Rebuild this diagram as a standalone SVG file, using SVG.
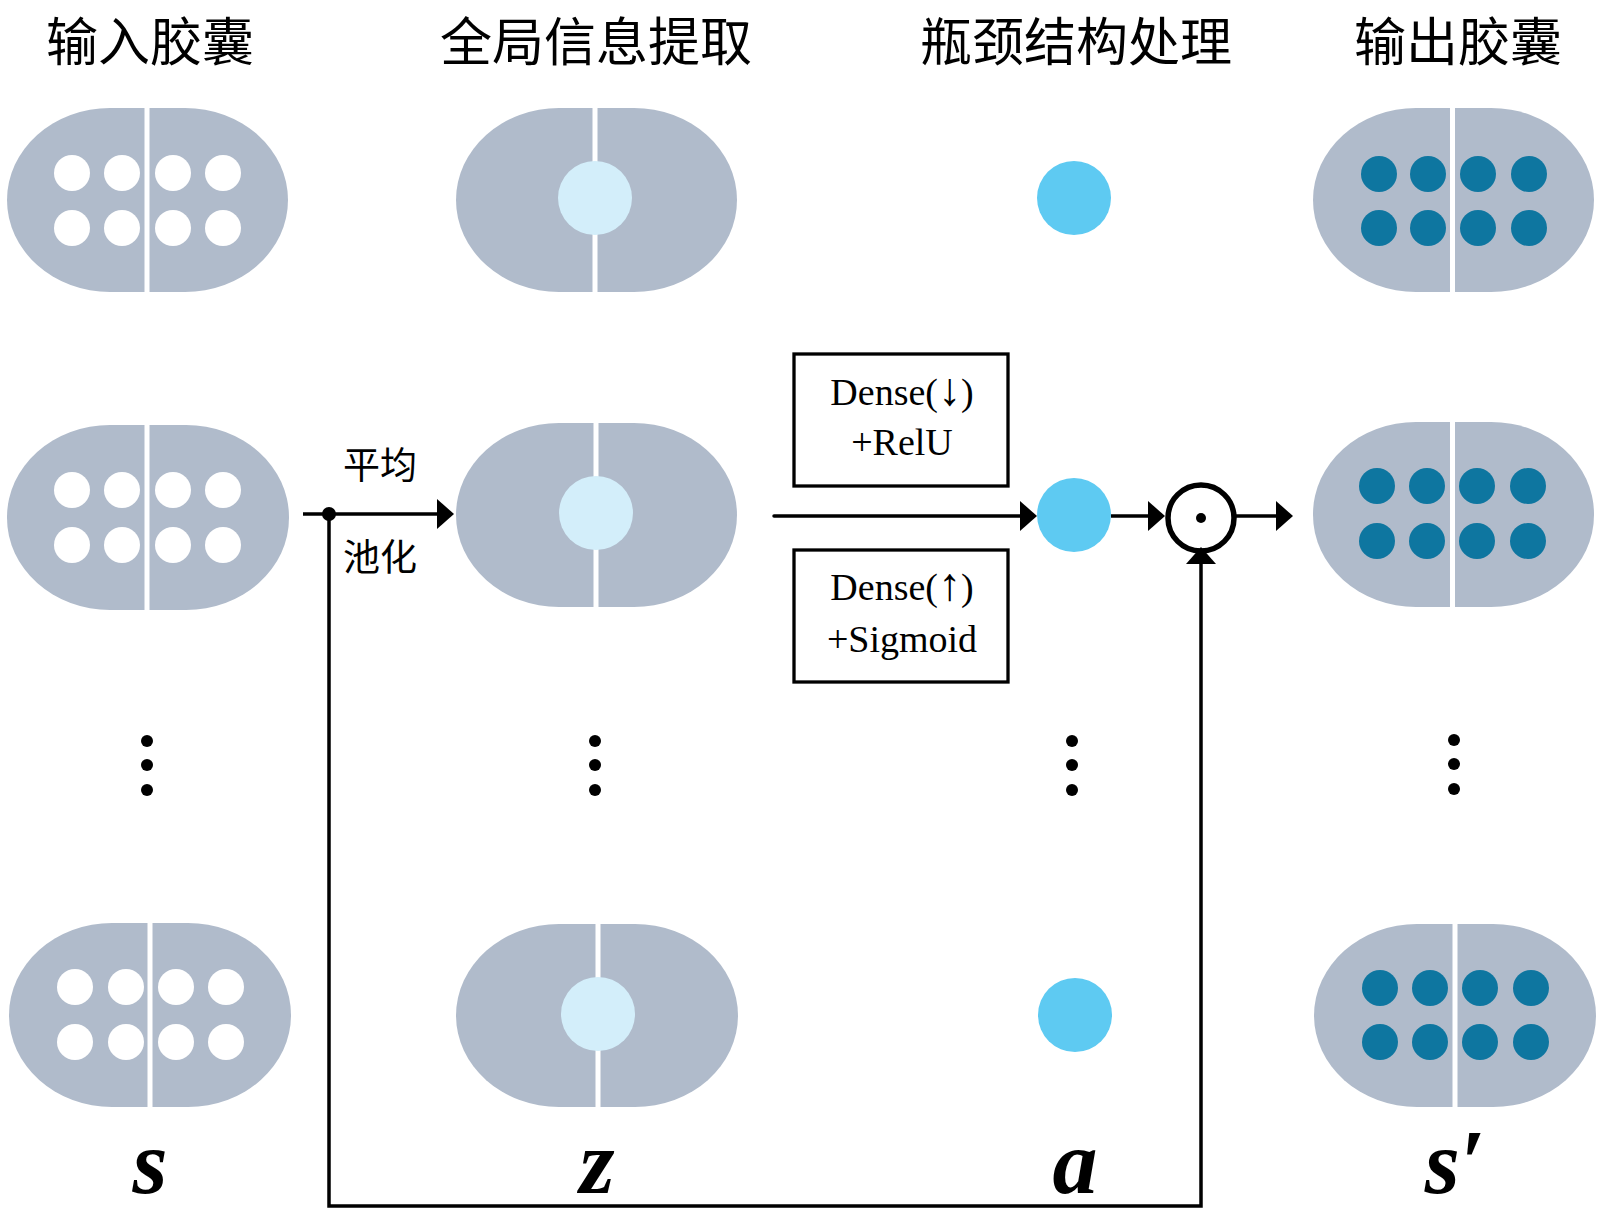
<svg xmlns="http://www.w3.org/2000/svg" width="1600" height="1214" viewBox="0 0 1600 1214">
<style>
.cap{fill:#b0bbcb}
.gap{fill:#ffffff}
.wd{fill:#ffffff}
.dd{fill:#0e76a0}
.lc{fill:#d3eefa}
.ac{fill:#5ecaf2}
.title{font-family:"Noto Sans CJK SC","Noto Sans CJK JP",sans-serif;font-size:52px;fill:#000;text-anchor:middle}
.cn{font-family:"Noto Sans CJK SC","Noto Sans CJK JP",sans-serif;font-size:37px;fill:#000;text-anchor:middle}
.box{fill:#fff;stroke:#000;stroke-width:3.3}
.bt{font-family:"Liberation Serif","DejaVu Serif",serif;font-size:38px;fill:#000;text-anchor:middle}
.ar{font-size:46px}
.var{font-family:"Liberation Serif","DejaVu Serif",serif;font-size:90px;font-weight:bold;font-style:italic;fill:#000;text-anchor:middle}
.ln{fill:none;stroke:#000;stroke-width:3.5}
.dot{fill:#000}
</style>
<defs>
<marker id="arr" viewBox="0 0 17 30" refX="3" refY="15" markerWidth="17" markerHeight="30" markerUnits="userSpaceOnUse" orient="auto">
<path d="M0,0 L17,15 L0,30 z" fill="#000"/>
</marker>
</defs>

<g id="titles">
<text class="title" x="150" y="61">输入胶囊</text>
<text class="title" x="596" y="61">全局信息提取</text>
<text class="title" x="1076" y="61">瓶颈结构处理</text>
<text class="title" x="1458" y="61">输出胶囊</text>
</g>

<!-- input capsules -->
<g id="s1">
<rect class="cap" x="7" y="108" width="281" height="184" rx="103" ry="92"/>
<rect class="gap" x="144.5" y="106" width="5" height="188"/>
<circle class="wd" cx="72" cy="173" r="18"/><circle class="wd" cx="122" cy="173" r="18"/><circle class="wd" cx="173" cy="173" r="18"/><circle class="wd" cx="223" cy="173" r="18"/>
<circle class="wd" cx="72" cy="228" r="18"/><circle class="wd" cx="122" cy="228" r="18"/><circle class="wd" cx="173" cy="228" r="18"/><circle class="wd" cx="223" cy="228" r="18"/>
</g>
<g id="s2">
<rect class="cap" x="7" y="425" width="282" height="185" rx="103" ry="92"/>
<rect class="gap" x="144.5" y="423" width="5" height="190"/>
<circle class="wd" cx="72" cy="490" r="18"/><circle class="wd" cx="122" cy="490" r="18"/><circle class="wd" cx="173" cy="490" r="18"/><circle class="wd" cx="223" cy="490" r="18"/>
<circle class="wd" cx="72" cy="545" r="18"/><circle class="wd" cx="122" cy="545" r="18"/><circle class="wd" cx="173" cy="545" r="18"/><circle class="wd" cx="223" cy="545" r="18"/>
</g>
<g id="s3">
<rect class="cap" x="9" y="923" width="282" height="184" rx="103" ry="92"/>
<rect class="gap" x="147.5" y="921" width="5" height="188"/>
<circle class="wd" cx="75" cy="987" r="18"/><circle class="wd" cx="126" cy="987" r="18"/><circle class="wd" cx="176" cy="987" r="18"/><circle class="wd" cx="226" cy="987" r="18"/>
<circle class="wd" cx="75" cy="1042" r="18"/><circle class="wd" cx="126" cy="1042" r="18"/><circle class="wd" cx="176" cy="1042" r="18"/><circle class="wd" cx="226" cy="1042" r="18"/>
</g>

<!-- global information capsules -->
<g id="z1">
<rect class="cap" x="456" y="108" width="281" height="184" rx="103" ry="92"/>
<rect class="gap" x="592.5" y="106" width="5" height="188"/>
<circle class="lc" cx="595" cy="198" r="37"/>
</g>
<g id="z2">
<rect class="cap" x="456" y="423" width="281" height="184" rx="103" ry="92"/>
<rect class="gap" x="593.5" y="421" width="5" height="188"/>
<circle class="lc" cx="596" cy="513" r="37"/>
</g>
<g id="z3">
<rect class="cap" x="456" y="924" width="282" height="183" rx="103" ry="92"/>
<rect class="gap" x="595.5" y="922" width="5" height="187"/>
<circle class="lc" cx="598" cy="1014" r="37"/>
</g>

<!-- bottleneck outputs -->
<g id="a1"><circle class="ac" cx="1074" cy="198" r="37"/></g>
<g id="a2"><circle class="ac" cx="1074" cy="515" r="37"/></g>
<g id="a3"><circle class="ac" cx="1075" cy="1015" r="37"/></g>

<!-- output capsules -->
<g id="sp1">
<rect class="cap" x="1313" y="108" width="281" height="184" rx="103" ry="92"/>
<rect class="gap" x="1450" y="106" width="5" height="188"/>
<circle class="dd" cx="1379" cy="174" r="18"/><circle class="dd" cx="1428" cy="174" r="18"/><circle class="dd" cx="1478" cy="174" r="18"/><circle class="dd" cx="1529" cy="174" r="18"/>
<circle class="dd" cx="1379" cy="228" r="18"/><circle class="dd" cx="1428" cy="228" r="18"/><circle class="dd" cx="1478" cy="228" r="18"/><circle class="dd" cx="1529" cy="228" r="18"/>
</g>
<g id="sp2">
<rect class="cap" x="1313" y="422" width="281" height="185" rx="103" ry="92"/>
<rect class="gap" x="1450" y="420" width="5" height="190"/>
<circle class="dd" cx="1377" cy="486" r="18"/><circle class="dd" cx="1427" cy="486" r="18"/><circle class="dd" cx="1477" cy="486" r="18"/><circle class="dd" cx="1528" cy="486" r="18"/>
<circle class="dd" cx="1377" cy="541" r="18"/><circle class="dd" cx="1427" cy="541" r="18"/><circle class="dd" cx="1477" cy="541" r="18"/><circle class="dd" cx="1528" cy="541" r="18"/>
</g>
<g id="sp3">
<rect class="cap" x="1314" y="924" width="282" height="183" rx="103" ry="92"/>
<rect class="gap" x="1452.5" y="922" width="5" height="187"/>
<circle class="dd" cx="1380" cy="988" r="18"/><circle class="dd" cx="1430" cy="988" r="18"/><circle class="dd" cx="1480" cy="988" r="18"/><circle class="dd" cx="1531" cy="988" r="18"/>
<circle class="dd" cx="1380" cy="1042" r="18"/><circle class="dd" cx="1430" cy="1042" r="18"/><circle class="dd" cx="1480" cy="1042" r="18"/><circle class="dd" cx="1531" cy="1042" r="18"/>
</g>

<!-- ellipsis dots -->
<g id="vdots">
<circle class="dot" cx="147" cy="741" r="6"/><circle class="dot" cx="147" cy="765" r="6"/><circle class="dot" cx="147" cy="790" r="6"/>
<circle class="dot" cx="595" cy="741" r="6"/><circle class="dot" cx="595" cy="765" r="6"/><circle class="dot" cx="595" cy="790" r="6"/>
<circle class="dot" cx="1072" cy="741" r="6"/><circle class="dot" cx="1072" cy="765" r="6"/><circle class="dot" cx="1072" cy="790" r="6"/>
<circle class="dot" cx="1454" cy="740" r="6"/><circle class="dot" cx="1454" cy="764" r="6"/><circle class="dot" cx="1454" cy="789" r="6"/>
</g>

<!-- dense boxes -->
<g id="dense-down">
<rect class="box" x="794" y="354" width="214" height="132"/>
<text class="bt" x="902" y="405">Dense(<tspan class="ar">↓</tspan>)</text>
<text class="bt" x="902" y="455">+RelU</text>
</g>
<g id="dense-up">
<rect class="box" x="794" y="550" width="214" height="132"/>
<text class="bt" x="902" y="600">Dense(<tspan class="ar">↑</tspan>)</text>
<text class="bt" x="902" y="652">+Sigmoid</text>
</g>

<!-- element-wise product -->
<g id="odot">
<circle cx="1201" cy="518" r="33" fill="#fff" stroke="#000" stroke-width="5.5"/>
<circle class="dot" cx="1201" cy="518" r="5"/>
</g>

<!-- connectors -->
<g id="connectors">
<path class="ln" d="M303,514 H440" marker-end="url(#arr)"/>
<path class="ln" d="M329,514 V1206 H1201 V561" marker-end="url(#arr)"/>
<circle class="dot" cx="329" cy="514" r="7"/>
<path class="ln" d="M774,516 H1023" stroke-linecap="round" marker-end="url(#arr)"/>
<path class="ln" d="M1111,516 H1151" marker-end="url(#arr)"/>
<path class="ln" d="M1236,516 H1279" marker-end="url(#arr)"/>
</g>

<g id="labels">
<text class="cn" x="380" y="479">平均</text>
<text class="cn" x="380" y="571">池化</text>
<text class="var" x="150" y="1193">s</text>
<text class="var" x="597" y="1193">z</text>
<text class="var" x="1075" y="1193">a</text>
<text class="var" x="1455" y="1193">s′</text>
</g>
</svg>
